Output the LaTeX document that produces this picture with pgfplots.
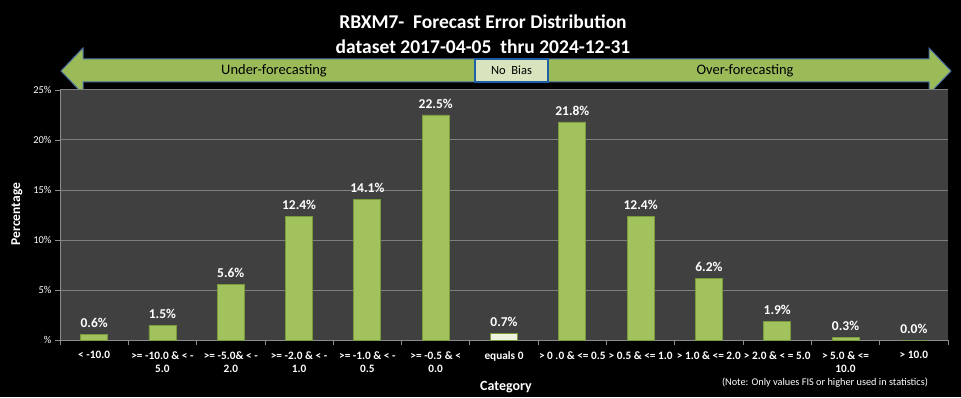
\documentclass[border=0pt]{standalone}
\usepackage{fontspec}
\setmainfont{Carlito}
\usepackage{pgfplots}
\pgfplotsset{compat=1.18}
\definecolor{bargreen}{HTML}{9BBB59}
\definecolor{barfill}{HTML}{A2C25E}
\definecolor{bardark}{HTML}{7A9A3E}
\definecolor{plotbg}{HTML}{404040}
\definecolor{gridgray}{HTML}{7F7F7F}
\definecolor{axisgray}{HTML}{8C8C8C}
\definecolor{arrowblue}{HTML}{4A6FA0}
\definecolor{nobias}{HTML}{D7E4BD}
\definecolor{nobiasborder}{HTML}{1F5FA8}
\definecolor{zerobar}{HTML}{EEF2DF}
\begin{document}
\begin{tikzpicture}[x=1pt,y=1pt]
\fill[black] (0,0) rectangle (961,397);
\useasboundingbox (0,0) rectangle (961,397);
% title
\node[text=white,font=\bfseries\fontsize{19.5}{21}\selectfont] at (483,375) {RBXM7-\ \ Forecast Error Distribution};
\node[text=white,font=\bfseries\fontsize{19.5}{21}\selectfont] at (483,350) {dataset 2017-04-05\ \ thru 2024-12-31};
% double arrow
\draw[fill=bargreen,draw=arrowblue,line width=1pt,line join=miter]
  (61,326) -- (83,349) -- (83,338) -- (929,338) -- (929,349) -- (951,326)
  -- (929,303) -- (929,315) -- (83,315) -- (83,303) -- cycle;
\draw[fill=nobias,draw=nobiasborder,line width=1.5pt] (475,315) rectangle (548,338);
\node[font=\fontsize{12.5}{14}\selectfont,text=black] at (511.5,326.5) {No\ \ Bias};
\node[font=\fontsize{14.5}{16}\selectfont,text=black] at (274,326) {Under-forecasting};
\node[font=\fontsize{14.5}{16}\selectfont,text=black] at (745,326) {Over-forecasting};
\begin{axis}[
  at={(60pt,57pt)}, anchor=south west,
  scale only axis, width=888pt, height=250pt,
  xmin=-0.5, xmax=12.5, ymin=0, ymax=25,
  axis background/.style={fill=plotbg},
  axis lines*=left,
  axis line style={draw=axisgray,line width=0.8pt,-},
  ymajorgrids,
  grid style={draw=gridgray,line width=1pt},
  tick align=outside,
  major tick length=5pt,
  tick style={draw=axisgray,line width=0.8pt},
  ytick={0,5,10,15,20,25},
  yticklabels={\%,5\%,10\%,15\%,20\%,25\%},
  yticklabel style={font=\fontsize{10.5}{12}\selectfont,text=white},
  xtick={-0.5,0.5,...,12.5},
  x tick label as interval,
  xticklabels={
    {< -10.0},
    {>= -10.0 \& < -\\5.0},
    {>= -5.0\& < -\\2.0},
    {>= -2.0 \& < -\\1.0},
    {>= -1.0 \& < -\\0.5},
    {>= -0.5 \& <\\0.0},
    {equals 0},
    {> 0 .0 \& <= 0.5},
    {> 0.5 \& <= 1.0},
    {> 1.0 \& <= 2.0},
    {> 2.0 \& < = 5.0},
    {> 5.0 \& <=\\10.0},
    {> 10.0}},
  xticklabel style={font=\bfseries\fontsize{11.3}{13.5}\selectfont,text=white,align=center,anchor=north,yshift=-3pt},
  ybar, bar width=27pt,
  /pgf/number format/assume math mode=true,
  nodes near coords={\pgfmathprintnumber[fixed,fixed zerofill,precision=1]{\pgfplotspointmeta}\%},
  every node near coord/.append style={font=\bfseries\fontsize{13.5}{15}\selectfont,text=white,yshift=3pt},
  clip=false,
]
\addplot[bar shift=0pt, draw=bardark, line width=0.8pt, fill=barfill]
  coordinates {(0,0.6) (1,1.5) (2,5.6) (3,12.4) (4,14.1) (5,22.5) (7,21.8) (8,12.4) (9,6.2) (10,1.9) (11,0.3) (12,0.0)};
\addplot[bar shift=0pt, draw=bardark, line width=0.8pt, fill=zerobar]
  coordinates {(6,0.7)};
\end{axis}
\node[rotate=90,text=white,font=\bfseries\fontsize{13.5}{15}\selectfont] at (17,183) {Percentage};
\node[text=white,font=\bfseries\fontsize{14}{16}\selectfont] at (506,10) {Category};
\node[text=white,font=\fontsize{10.3}{12}\selectfont] at (825,14) {(Note: Only values FIS or higher used in statistics)};
\end{tikzpicture}
\end{document}
